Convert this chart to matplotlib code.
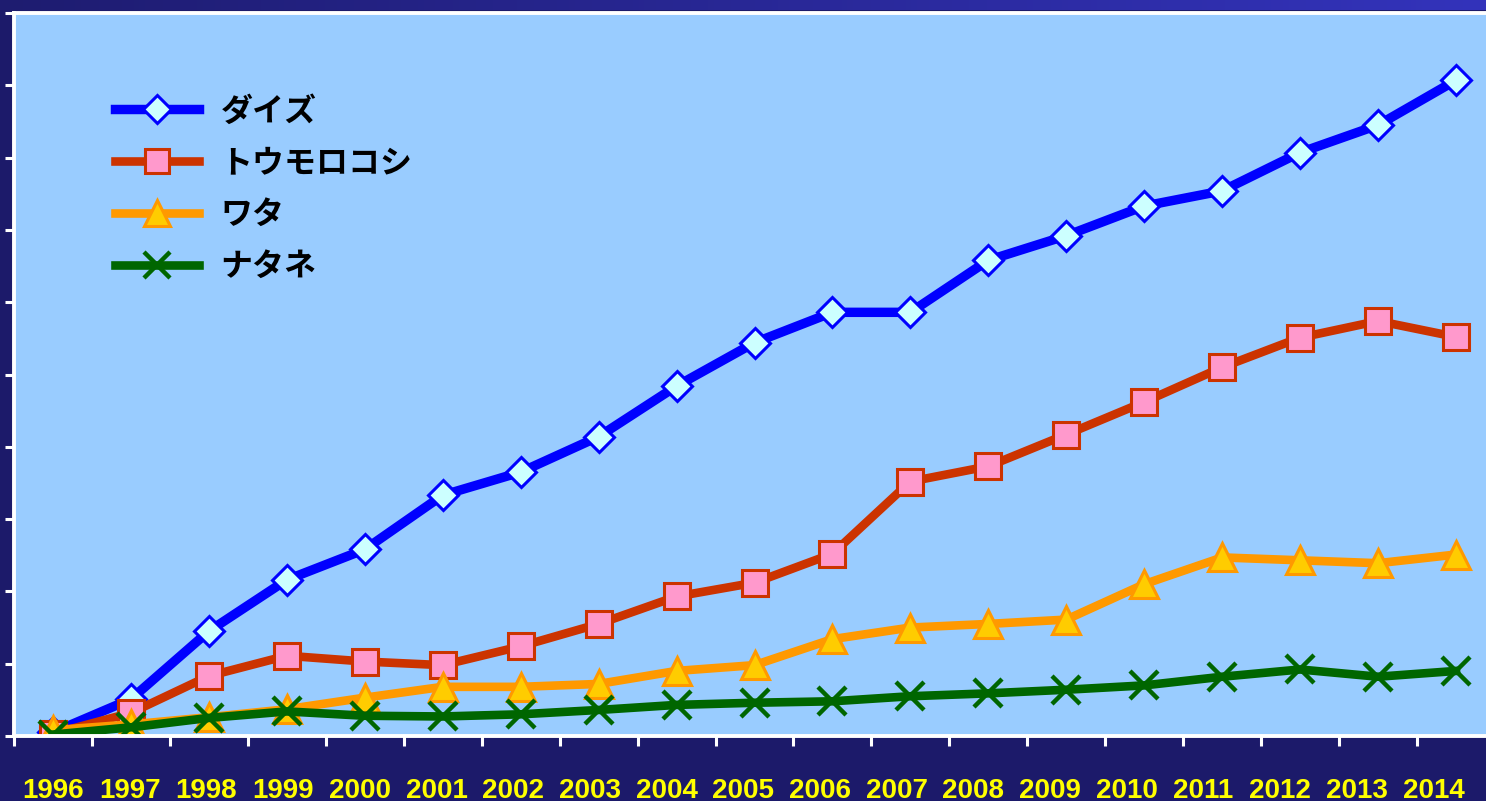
import numpy as np
import matplotlib
matplotlib.use("Agg")
import matplotlib.pyplot as plt
from matplotlib.colors import LinearSegmentedColormap

plt.rcParams['font.family'] = ['Noto Sans CJK JP', 'DejaVu Sans']

# data (GM crop area)
years = [str(y) for y in range(1996, 2015)]
soy = [0.5, 5.1, 14.5, 21.6, 25.8, 33.3, 36.5, 41.4, 48.4, 54.4, 58.6, 58.6,
       65.8, 69.2, 73.3, 75.4, 80.7, 84.5, 90.7]
corn = [0.3, 3.2, 8.3, 11.1, 10.3, 9.8, 12.4, 15.5, 19.3, 21.2, 25.2, 35.2,
        37.3, 41.7, 46.2, 51.0, 55.1, 57.4, 55.2]
cotton = [0.8, 1.6, 2.6, 3.7, 5.3, 6.8, 6.8, 7.2, 9.0, 9.8, 13.4, 15.0,
          15.5, 16.1, 21.0, 24.7, 24.3, 23.9, 25.1]
canola = [0.2, 1.2, 2.5, 3.4, 2.8, 2.7, 3.0, 3.6, 4.3, 4.6, 4.8, 5.5,
          5.9, 6.4, 7.0, 8.2, 9.2, 8.2, 9.0]
labels = ["ダイズ", "トウモロコシ", "ワタ", "ナタネ"]

navy = "#1c1a6a"
fig = plt.figure(figsize=(14.86, 8.01), dpi=100, facecolor=navy)

# gradient band at the very top
band = fig.add_axes([0, 1 - 10 / 801, 1, 10 / 801])
cmap = LinearSegmentedColormap.from_list("band", ["#1e1c70", "#3333bb"])
band.imshow(np.linspace(0, 1, 256)[None, :], aspect="auto", cmap=cmap)
band.axis("off")

ax = fig.add_axes([14 / 1486, 65 / 801, 1481 / 1486, 723 / 801])
ax.set_facecolor("#99ccff")

x = np.arange(len(years))
ax.plot(x, soy, color="#0000ff", lw=6.8, marker="D", ms=15.5,
        mfc="#ccffff", mec="#0000ff", mew=2.2, label=labels[0])
ax.plot(x, corn, color="#cc3300", lw=6.2, marker="s", ms=18.5,
        mfc="#ff99cc", mec="#cc3300", mew=2.2, label=labels[1])
ax.plot(x, cotton, color="#ff9900", lw=6.2, marker="^", ms=20,
        mfc="#ffcc00", mec="#ff9900", mew=2.2, label=labels[2])
ax.plot(x, canola, color="#006600", lw=6.2, marker="x", ms=20,
        mec="#006600", mew=3.2, label=labels[3])

ax.set_xlim(-0.5, len(years) - 0.5)
ax.set_ylim(0, 100)

for s in ["left", "bottom", "top"]:
    ax.spines[s].set_color("white")
    ax.spines[s].set_linewidth(2.8)
ax.spines["right"].set_visible(False)

ax.set_yticks(np.arange(0, 101, 10))
ax.tick_params(axis="y", colors="white", length=6.5, width=2.2,
               labelleft=False)
# year labels sit a little tighter than the points, as in the original slide
ax.set_xticks(x * 0.984)
ax.set_xticklabels(years)
ax.set_xticks(np.arange(-0.5, len(years), 1), minor=True)
ax.tick_params(axis="x", which="major", length=0, pad=30)
ax.tick_params(axis="x", which="minor", length=7, width=2.2, color="white")
for t in ax.get_xticklabels():
    t.set_family("Liberation Sans")
    t.set_fontweight("bold")
    t.set_fontsize(20)
    t.set_color("#ffff00")

leg = ax.legend(loc="upper left", bbox_to_anchor=(0.068, 0.886),
                frameon=False, numpoints=1, handlelength=2.65,
                handletextpad=0.66, labelspacing=0.62, borderpad=0,
                borderaxespad=0, markerscale=0.92,
                prop={"family": ["Noto Sans CJK JP", "DejaVu Sans"],
                      "weight": "bold", "size": 23})

fig.savefig("out.png", dpi=100, facecolor=navy)
